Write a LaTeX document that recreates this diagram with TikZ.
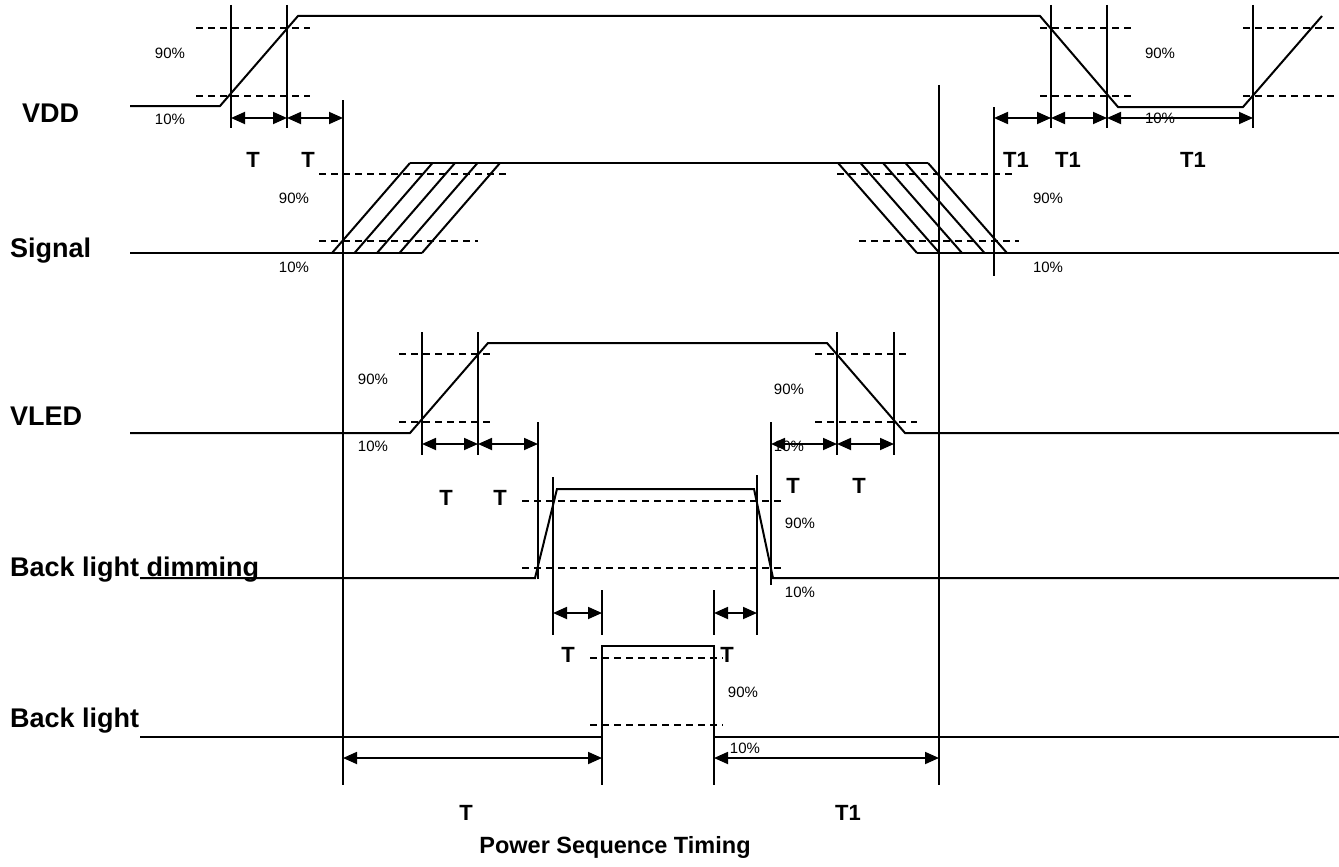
\documentclass[tikz,border=0pt]{standalone}
\usepackage{fontspec}
\setmainfont{Liberation Sans}
\usetikzlibrary{arrows.meta}
\tikzset{
  wave/.style={line width=2pt, line join=miter},
  vline/.style={line width=1.8pt},
  dline/.style={line width=1.5pt, dash pattern=on 7pt off 5pt},
  dim/.style={line width=1.8pt, {Triangle[length=14pt,width=12pt]}-{Triangle[length=14pt,width=12pt]}},
  sig/.style={font=\fontsize{27}{30}\selectfont\bfseries, anchor=base west, inner sep=0pt},
  tl/.style={font=\fontsize{22}{24}\selectfont\bfseries, anchor=base, inner sep=0pt},
  pc/.style={font=\fontsize{15}{17}\selectfont, inner sep=0pt},
  ttl/.style={font=\fontsize{23.5}{26}\selectfont\bfseries, anchor=base, inner sep=0pt}
}
\begin{document}
\begin{tikzpicture}[x=1pt,y=-1pt]
\useasboundingbox (0,0) rectangle (1339,867);
% ---------- signal names ----------
\node[sig] (nVDD) at (22,122) {VDD};
\node[sig] (nSig) at (10,257) {Signal};
\node[sig] (nVLED) at (10,425) {VLED};
\node[sig] (nBLD) at (10,576) {Back light dimming};
\node[sig] (nBL) at (10,727) {Back light};
% ---------- waveforms ----------
\draw[wave] (130,106) -- (220,106) -- (298,16) -- (1040,16) -- (1118,107) -- (1243,107) -- (1322,16);
\draw[wave] (130,253) -- (422,253);
\draw[wave] (410,163) -- (928,163);
\draw[wave] (917,253) -- (1339,253);
\foreach \k in {0,...,4} {
  \draw[wave] ({332+22.5*\k},253) -- ({410+22.5*\k},163);
  \draw[wave] ({838+22.5*\k},163) -- ({917+22.5*\k},253);
}
\draw[wave] (130,433) -- (410,433) -- (488,343) -- (827,343) -- (905,433) -- (1339,433);
\draw[wave] (140,578) -- (535,578) -- (557,489) -- (754,489) -- (773,578) -- (1339,578);
\draw[wave] (140,737) -- (602,737) -- (602,646) -- (714,646) -- (714,737) -- (1339,737);
% ---------- dashed levels ----------
\draw[dline] (196,28) -- (310,28);
\draw[dline] (196,96) -- (310,96);
\draw[dline] (1040,28) -- (1132,28);
\draw[dline] (1040,96) -- (1132,96);
\draw[dline] (1243,28) -- (1339,28);
\draw[dline] (1243,96) -- (1339,96);
\draw[dline] (319,174) -- (510,174);
\draw[dline] (319,241) -- (478,241);
\draw[dline] (837,174) -- (1013,174);
\draw[dline] (859,241) -- (1019,241);
\draw[dline] (399,354) -- (490,354);
\draw[dline] (399,422) -- (490,422);
\draw[dline] (815,354) -- (906,354);
\draw[dline] (815,422) -- (917,422);
\draw[dline] (522,501) -- (782,501);
\draw[dline] (522,568) -- (782,568);
\draw[dline] (590,658) -- (723,658);
\draw[dline] (590,725) -- (723,725);
% ---------- vertical markers ----------
\draw[vline] (231,5) -- (231,128);
\draw[vline] (287,5) -- (287,128);
\draw[vline] (343,100) -- (343,785);
\draw[vline] (994,107) -- (994,276);
\draw[vline] (1051,5) -- (1051,128);
\draw[vline] (1107,5) -- (1107,128);
\draw[vline] (1253,5) -- (1253,128);
\draw[vline] (939,85) -- (939,785);
\draw[vline] (422,332) -- (422,455);
\draw[vline] (478,332) -- (478,455);
\draw[vline] (538,422) -- (538,579);
\draw[vline] (771,422) -- (771,585);
\draw[vline] (837,332) -- (837,455);
\draw[vline] (894,332) -- (894,455);
\draw[vline] (553,477) -- (553,635);
\draw[vline] (757,475) -- (757,635);
\draw[vline] (602,590) -- (602,635);
\draw[vline] (714,590) -- (714,635);
\draw[vline] (602,737) -- (602,785);
\draw[vline] (714,737) -- (714,785);
% ---------- percentage labels ----------
\node[pc] (p1) at (170,53) {90\%};
\node[pc] (p2) at (170,119) {10\%};
\node[pc] (p3) at (1160,53) {90\%};
\node[pc] (p4) at (1160,118) {10\%};
\node[pc] (p5) at (294,198) {90\%};
\node[pc] (p6) at (294,267) {10\%};
\node[pc] (p7) at (1048,198) {90\%};
\node[pc] (p8) at (1048,267) {10\%};
\node[pc] (p9) at (373,379) {90\%};
\node[pc] (p10) at (373,446) {10\%};
\node[pc] (p11) at (789,389) {90\%};
\node[pc] (p12) at (789,446) {10\%};
\node[pc] (p13) at (800,523) {90\%};
\node[pc] (p14) at (800,592) {10\%};
\node[pc] (p15) at (743,692) {90\%};
\node[pc] (p16) at (745,748) {10\%};
% ---------- dimension arrows ----------
\draw[dim] (231,118) -- (287,118);
\draw[dim] (287,118) -- (343,118);
\draw[dim] (994,118) -- (1051,118);
\draw[dim] (1051,118) -- (1107,118);
\draw[dim] (1107,118) -- (1253,118);
\draw[dim] (422,444) -- (478,444);
\draw[dim] (478,444) -- (538,444);
\draw[dim] (771,444) -- (837,444);
\draw[dim] (837,444) -- (894,444);
\draw[dim] (553,613) -- (602,613);
\draw[dim] (714,613) -- (757,613);
\draw[dim] (343,758) -- (602,758);
\draw[dim] (714,758) -- (939,758);
% ---------- timing labels ----------
\node[tl] (t1) at (253,167) {T};
\node[tl] (t2) at (308,167) {T};
\node[tl] (t3) at (1016,167) {T1};
\node[tl] (t4) at (1068,167) {T1};
\node[tl] (t5) at (1193,167) {T1};
\node[tl] (t6) at (446,505) {T};
\node[tl] (t7) at (500,505) {T};
\node[tl] (t8) at (793,493) {T};
\node[tl] (t9) at (859,493) {T};
\node[tl] (t10) at (568,662) {T};
\node[tl] (t11) at (727,662) {T};
\node[tl] (t12) at (466,820) {T};
\node[tl] (t13) at (848,820) {T1};
\node[ttl] (title) at (615,853) {Power Sequence Timing};
\end{tikzpicture}
\end{document}
